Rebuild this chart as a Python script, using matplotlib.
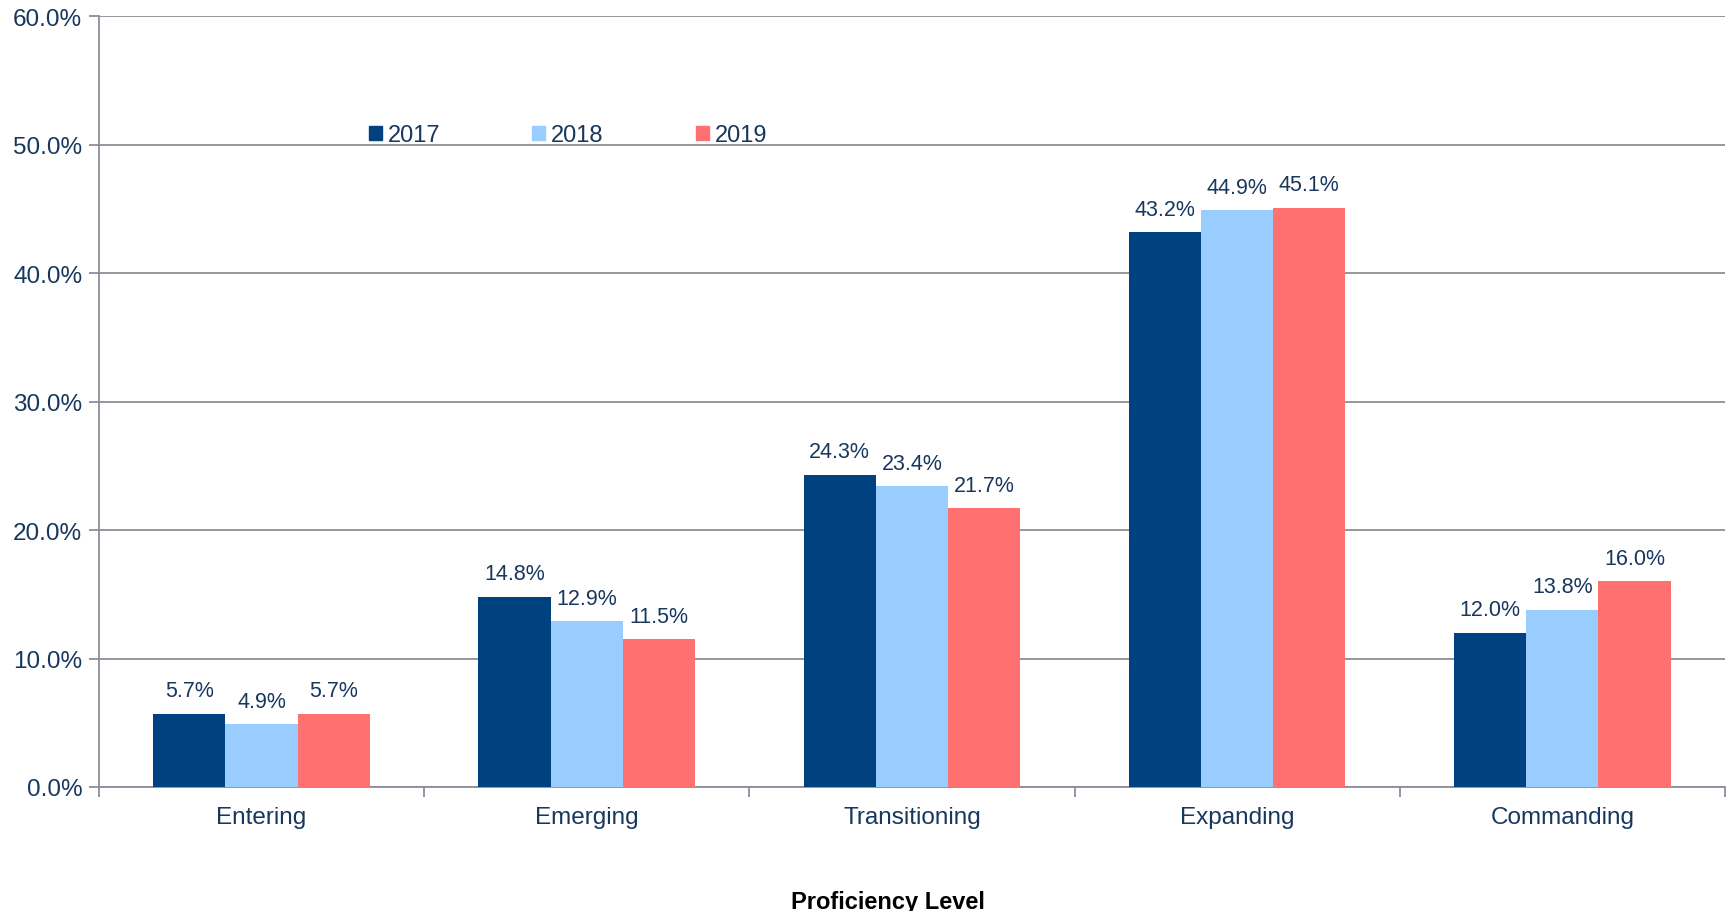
import matplotlib.pyplot as plt
import numpy as np
from matplotlib.patches import Patch
from matplotlib.ticker import FuncFormatter, FixedLocator

plt.rcParams['font.family'] = ['Liberation Sans', 'DejaVu Sans']

levels = ['Entering', 'Emerging', 'Transitioning', 'Expanding', 'Commanding']
years = ['2017', '2018', '2019']
pct_2017 = [5.7, 14.8, 24.3, 43.2, 12.0]
pct_2018 = [4.9, 12.9, 23.4, 44.9, 13.8]
pct_2019 = [5.7, 11.5, 21.7, 45.1, 16.0]

colors = ['#00427F', '#99CCFF', '#FF7070']
text_col = '#17375E'
grid_col = '#8E8E9A'

fig = plt.figure(figsize=(17.27, 9.12), dpi=100)
ax = fig.add_axes([0.0573, 0.136, 0.9415, 0.845])

x = np.arange(len(levels))
w = 0.222
for i, (vals, c) in enumerate(zip([pct_2017, pct_2018, pct_2019], colors)):
    pos = x + (i - 1) * w
    ax.bar(pos, vals, width=w, color=c, zorder=3, label=years[i])
    for p, v in zip(pos, vals):
        ax.annotate(f'{v:.1f}%', (p, v), xytext=(0, 9), textcoords='offset points',
                    ha='center', va='bottom', fontsize=15.5, color=text_col)

ax.set_xlim(-0.5, len(levels) - 0.5)
ax.set_ylim(0, 60)
ax.set_yticks(np.arange(0, 61, 10))
ax.yaxis.set_major_formatter(FuncFormatter(lambda v, _: f'{v:.1f}%'))
ax.yaxis.grid(True, color=grid_col, linewidth=1.3, zorder=0)

# category labels centred, ticks on the boundaries
ax.set_xticks(x)
ax.set_xticklabels(levels, fontsize=17.5, color=text_col)
ax.tick_params(axis='x', which='major', length=0, pad=14)
ax.xaxis.set_minor_locator(FixedLocator(np.arange(-0.5, len(levels), 1.0)))
ax.tick_params(axis='x', which='minor', length=7, width=1.3, color=grid_col)
ax.tick_params(axis='y', length=7, width=1.3, color=grid_col,
               labelsize=17.5, labelcolor=text_col, pad=5)

for side in ['top', 'right']:
    ax.spines[side].set_visible(False)
for side in ['left', 'bottom']:
    ax.spines[side].set_color(grid_col)
    ax.spines[side].set_linewidth(1.3)

ax.set_xlabel('Proficiency Level', fontsize=17, fontweight='bold', x=0.485, labelpad=44)

handles = [Patch(color=c, label=y) for c, y in zip(colors, years)]
leg = ax.legend(handles=handles, ncol=3, loc='center left', bbox_to_anchor=(0.166, 0.846),
                frameon=False, fontsize=17, handlelength=0.55, handleheight=0.55,
                handletextpad=0.25, columnspacing=3.9, borderpad=0, borderaxespad=0)
for t in leg.get_texts():
    t.set_color(text_col)

fig.savefig('out.png', dpi=100)
